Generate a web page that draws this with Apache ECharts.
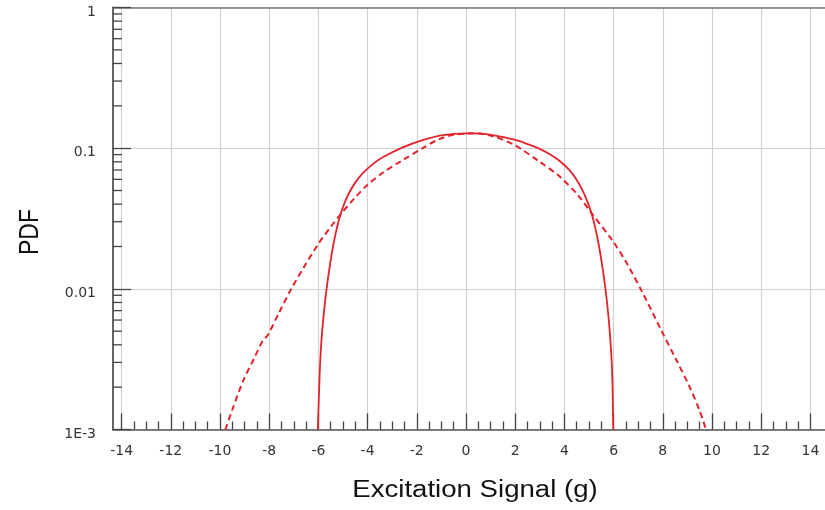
<!DOCTYPE html>
<html>
<head>
<meta charset="utf-8">
<script src="https://cdn.jsdelivr.net/npm/echarts@6/dist/echarts.min.js"></script>
<style>html,body{margin:0;padding:0;background:#fff;}#c{width:825px;height:510px;}</style>
</head>
<body>
<div id="c"></div>
<script>
// ---- data ----
const solidX = [-6.02, -5.95, -5.88, -5.78, -5.68, -5.52, -5.35, -5.15, -4.95, -4.74, -4.5, -4.2, -3.8, -3.38, -2.57, -1.76, -0.94, 0, 0.5, 1.09, 1.97, 2.57, 3.0, 3.38, 3.8, 4.2, 4.5, 4.74, 4.95, 5.15, 5.35, 5.52, 5.68, 5.78, 5.88, 5.95, 5.99];
const solidPdf = [0.00100, 0.00240, 0.00417, 0.00661, 0.00955, 0.01514, 0.02239, 0.03162, 0.04027, 0.04842, 0.05689, 0.06607, 0.07674, 0.08610, 0.10120, 0.11400, 0.12390, 0.12760, 0.12740, 0.12360, 0.11480, 0.10590, 0.09890, 0.09120, 0.08130, 0.07000, 0.05960, 0.05010, 0.04120, 0.03240, 0.02290, 0.01550, 0.00977, 0.00676, 0.00417, 0.00240, 0.00100];
const dashX = [-9.78, -9.5, -9.07, -8.6, -8.26, -8.06, -7.6, -7.1, -6.6, -6.0, -5.5, -5.0, -4.5, -4.0, -3.38, -2.57, -1.76, -1.08, -0.5, 0.3, 1.0, 1.97, 2.99, 3.8, 4.55, 5.1, 5.97, 6.58, 7.19, 7.93, 8.54, 9.09, 9.49, 9.76];
const dashPdf = [0.00100, 0.00138, 0.00219, 0.00324, 0.00427, 0.00468, 0.00676, 0.01000, 0.01413, 0.02089, 0.02754, 0.03548, 0.04467, 0.05495, 0.06683, 0.08222, 0.10000, 0.11610, 0.12450, 0.12740, 0.12300, 0.10540, 0.08017, 0.06310, 0.04645, 0.03467, 0.02188, 0.01479, 0.00933, 0.00513, 0.00316, 0.00202, 0.00138, 0.00100];
const xTickLabels = [-14, -12, -10, -8, -6, -4, -2, 0, 2, 4, 6, 8, 10, 12, 14];
const yTickValues = [0.001, 0.01, 0.1, 1];
const yTickLabels = ['1E-3', '0.01', '0.1', '1'];
const yMinorMantissas = [2, 3, 4, 5, 6, 7, 8, 9];
const yDecades = [0.001, 0.01, 0.1];
const xAxisTitle = 'Excitation Signal (g)';
const yAxisTitle = 'PDF';

// ---- chart ----
const X_MIN = -14.35, X_MAX = 14.6;
const RED = '#e3222b';
const AX = '#555';
const GRIDC = '#d2d2d2';
const LBL_FONT = '"DejaVu Sans", "Liberation Sans", sans-serif';
const minorVals = [];
yDecades.forEach(d => yMinorMantissas.forEach(m => minorVals.push([X_MIN, +(m * d).toPrecision(3)])));

const chart = echarts.init(document.getElementById('c'), null, {renderer: 'canvas'});
const gTop = 7.5, gBottom = 80.5;
chart.setOption({
  animation: false,
  backgroundColor: '#fff',
  grid: [
    {left: 113, right: 0, top: gTop, bottom: gBottom, containLabel: false},
    {left: 121.6, right: 825 - 810.4, top: gTop, bottom: gBottom, containLabel: false}
  ],
  xAxis: [
    {gridIndex: 0, type: 'value', min: X_MIN, max: X_MAX, position: 'bottom',
     axisLine: {show: true, onZero: false, lineStyle: {color: AX, width: 1.6}},
     axisTick: {show: false}, axisLabel: {show: false}, splitLine: {show: false}},
    {gridIndex: 0, type: 'value', min: X_MIN, max: X_MAX, position: 'top',
     axisLine: {show: true, onZero: false, lineStyle: {color: '#777', width: 1.6}},
     axisTick: {show: false}, axisLabel: {show: false}, splitLine: {show: false}},
    {gridIndex: 1, type: 'value', min: xTickLabels[0], max: xTickLabels[xTickLabels.length - 1], interval: 2, position: 'bottom',
     axisLine: {show: false},
     axisTick: {show: true, inside: true, length: 16, lineStyle: {color: '#444', width: 1.3}},
     minorTick: {show: true, splitNumber: 4, length: 8, lineStyle: {color: '#444', width: 1.3}},
     axisLabel: {show: true, margin: 15, color: '#333', fontFamily: LBL_FONT, fontSize: 14,
       formatter: v => String(v)},
     splitLine: {show: true, lineStyle: {color: GRIDC, width: 1.2}}}
  ],
  yAxis: [
    {gridIndex: 0, type: 'log', logBase: 10, min: yTickValues[0], max: yTickValues[yTickValues.length - 1],
     axisLine: {show: true, onZero: false, lineStyle: {color: AX, width: 1.8}},
     axisTick: {show: true, inside: true, length: 18, lineStyle: {color: '#444', width: 1.3}},
     minorTick: {show: false},
     axisLabel: {show: true, margin: 17, color: '#333',
       formatter: v => { const i = yTickValues.findIndex(t => Math.abs(Math.log10(t) - Math.log10(v)) < 1e-6); return i >= 0 ? '{a|' + yTickLabels[i] + '}' : ''; },
       rich: {a: {fontFamily: LBL_FONT, fontSize: 14, color: '#333', padding: [9, 0, 0, 0]}}},
     splitLine: {show: true, lineStyle: {color: GRIDC, width: 1.2}}},
    {gridIndex: 1, type: 'log', min: 0.001, max: 1, show: false}
  ],
  series: [
    {type: 'custom', xAxisIndex: 0, yAxisIndex: 0, silent: true, clip: false, z: 5,
     data: minorVals,
     renderItem: (params, api) => {
       const p = api.coord([api.value(0), api.value(1)]);
       return {type: 'line', shape: {x1: p[0], y1: p[1], x2: p[0] + 9, y2: p[1]},
               style: {stroke: '#444', lineWidth: 1.3}};
     }},
    {name: 'solid', type: 'line', xAxisIndex: 0, yAxisIndex: 0, showSymbol: false, smooth: 0.3,
     data: solidX.map((x, i) => [x, solidPdf[i]]),
     lineStyle: {color: RED, width: 1.8}},
    {name: 'dashed', type: 'line', xAxisIndex: 0, yAxisIndex: 0, showSymbol: false, smooth: 0.3,
     data: dashX.map((x, i) => [x, dashPdf[i]]),
     lineStyle: {color: RED, width: 2, type: [6, 4]}}
  ],
  graphic: [
    {type: 'text', x: 475, y: 491, scaleX: 1.2,
     style: {text: xAxisTitle, fill: '#111', font: '23px "Liberation Sans", Arial, sans-serif', align: 'center', verticalAlign: 'middle'}},
    {type: 'text', x: 30, y: 232, rotation: Math.PI / 2, scaleY: 1.2,
     style: {text: yAxisTitle, fill: '#111', font: '23px "Liberation Sans", Arial, sans-serif', align: 'center', verticalAlign: 'middle'}}
  ]
});
</script>
</body>
</html>
